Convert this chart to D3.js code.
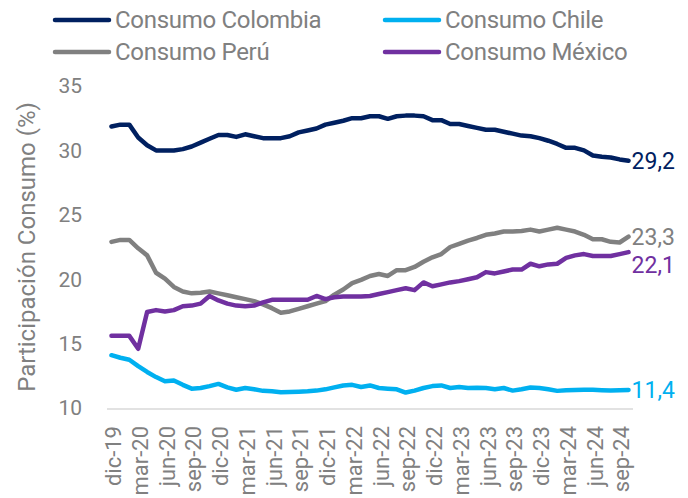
<!DOCTYPE html>
<html>
<head>
<meta charset="utf-8">
<script src="https://cdn.jsdelivr.net/npm/d3@7"></script>
<style>
  html, body { margin: 0; padding: 0; background: #ffffff; }
  svg { display: block; font-family: Roboto, "Noto Sans", sans-serif; }
</style>
</head>
<body>
<svg id="chart" width="688" height="498"></svg>
<script>
const months = ["dic-19","ene-20","feb-20","mar-20","abr-20","may-20","jun-20","jul-20","ago-20","sep-20","oct-20","nov-20",
  "dic-20","ene-21","feb-21","mar-21","abr-21","may-21","jun-21","jul-21","ago-21","sep-21","oct-21","nov-21",
  "dic-21","ene-22","feb-22","mar-22","abr-22","may-22","jun-22","jul-22","ago-22","sep-22","oct-22","nov-22",
  "dic-22","ene-23","feb-23","mar-23","abr-23","may-23","jun-23","jul-23","ago-23","sep-23","oct-23","nov-23",
  "dic-23","ene-24","feb-24","mar-24","abr-24","may-24","jun-24","jul-24","ago-24","sep-24","oct-24"];

const colombia = [31.85,32.0,32.0,31.0,30.4,30.0,30.0,30.0,30.1,30.3,30.6,30.9,
  31.2,31.2,31.05,31.25,31.1,30.95,30.95,30.95,31.1,31.4,31.55,31.7,
  32.0,32.15,32.3,32.5,32.5,32.65,32.65,32.45,32.65,32.7,32.7,32.65,
  32.35,32.35,32.05,32.05,31.9,31.75,31.6,31.6,31.45,31.3,31.15,31.1,
  30.95,30.75,30.5,30.2,30.2,30.0,29.6,29.5,29.45,29.3,29.2];

const chile = [14.1,13.9,13.75,13.25,12.8,12.4,12.07,12.13,11.8,11.5,11.55,11.7,
  11.87,11.6,11.42,11.55,11.45,11.33,11.3,11.22,11.25,11.27,11.3,11.35,
  11.45,11.6,11.75,11.8,11.63,11.75,11.55,11.5,11.45,11.2,11.35,11.55,
  11.7,11.75,11.55,11.63,11.55,11.58,11.55,11.46,11.55,11.35,11.45,11.59,
  11.55,11.45,11.33,11.38,11.4,11.41,11.41,11.38,11.36,11.38,11.4];

const peru = [22.9,23.05,23.05,22.4,21.85,20.5,20.05,19.4,19.05,18.9,18.95,19.05,
  18.9,18.75,18.6,18.45,18.3,18.05,17.75,17.4,17.5,17.7,17.9,18.1,
  18.3,18.8,19.2,19.7,19.95,20.25,20.4,20.25,20.7,20.7,20.95,21.35,
  21.7,21.95,22.5,22.75,23.0,23.2,23.45,23.55,23.7,23.7,23.75,23.85,
  23.7,23.85,24.0,23.85,23.7,23.45,23.1,23.1,22.9,22.85,23.3];

const mexico = [15.6,15.6,15.6,14.6,17.45,17.6,17.5,17.6,17.9,17.95,18.1,18.7,
  18.35,18.1,17.95,17.9,17.95,18.2,18.4,18.4,18.4,18.4,18.4,18.7,
  18.45,18.6,18.65,18.65,18.65,18.7,18.85,19.0,19.15,19.3,19.15,19.75,
  19.45,19.6,19.75,19.85,20.0,20.15,20.55,20.45,20.6,20.75,20.75,21.2,
  21.0,21.15,21.2,21.65,21.85,21.95,21.8,21.8,21.8,21.95,22.1];

const seriesNames = ["Consumo Colombia","Consumo Chile","Consumo Perú","Consumo México"];
const endLabels = ["29,2","11,4","23,3","22,1"];
const yTicks = [10,15,20,25,30,35];
const yTitle = "Participación Consumo (%)";

const colors = ["#002060","#00B0F0","#808080","#7030A0"];
const seriesData = [colombia, chile, peru, mexico];
const labelOffsets = [0, 0, 0, 13];

const svg = d3.select("#chart");
const textColor = "#808080";

const x = d3.scalePoint().domain(months).range([107, 633]).padding(0.5);
const y = d3.scaleLinear().domain([10, 35]).range([408, 86]);

// x axis baseline
svg.append("line")
  .attr("x1", 107).attr("x2", 633)
  .attr("y1", 409).attr("y2", 409)
  .attr("stroke", "#d9d9d9").attr("stroke-width", 1.5);

// y tick labels
svg.append("g").selectAll("text").data(yTicks).join("text")
  .attr("x", 82).attr("y", d => y(d))
  .attr("dy", "0.35em")
  .attr("text-anchor", "end")
  .attr("fill", textColor)
  .attr("font-size", 21)
  .text(d => d);

// y title
svg.append("text")
  .attr("transform", `translate(35,${(86+408)/2}) rotate(-90)`)
  .attr("text-anchor", "middle")
  .attr("fill", textColor)
  .attr("font-size", 24)
  .text(yTitle);

// x labels
svg.append("g").selectAll("text")
  .data(months.filter((m, i) => i % 3 === 0))
  .join("text")
  .attr("transform", d => `translate(${x(d) + 2},426) rotate(-90)`)
  .attr("dy", "0.35em")
  .attr("text-anchor", "end")
  .attr("fill", textColor)
  .attr("font-size", 22)
  .text(d => d);

// lines
const line = d3.line().x((d, i) => x(months[i])).y(d => y(d));
const drawOrder = [1, 2, 3, 0];
drawOrder.forEach(k => {
  svg.append("path")
    .datum(seriesData[k])
    .attr("d", line)
    .attr("fill", "none")
    .attr("stroke", colors[k])
    .attr("stroke-width", 4.5)
    .attr("stroke-linejoin", "round")
    .attr("stroke-linecap", "round");
});

// end labels
seriesData.forEach((s, k) => {
  svg.append("text")
    .attr("x", x(months[months.length - 1]) + 3)
    .attr("y", y(s[s.length - 1]) + labelOffsets[k])
    .attr("dy", "0.35em")
    .attr("fill", colors[k])
    .attr("font-size", 23)
    .text(endLabels[k]);
});

// legend
const legendPos = [[55, 20], [385, 20], [55, 52], [385, 52]];
seriesNames.forEach((n, k) => {
  const [lx, ly] = legendPos[k];
  svg.append("line")
    .attr("x1", lx).attr("x2", lx + 54)
    .attr("y1", ly).attr("y2", ly)
    .attr("stroke", colors[k]).attr("stroke-width", 4.5)
    .attr("stroke-linecap", "round");
  svg.append("text")
    .attr("x", lx + 60).attr("y", ly)
    .attr("dy", "0.35em")
    .attr("fill", textColor)
    .attr("font-size", 24)
    .attr("letter-spacing", -0.3)
    .text(n);
});
</script>
</body>
</html>
